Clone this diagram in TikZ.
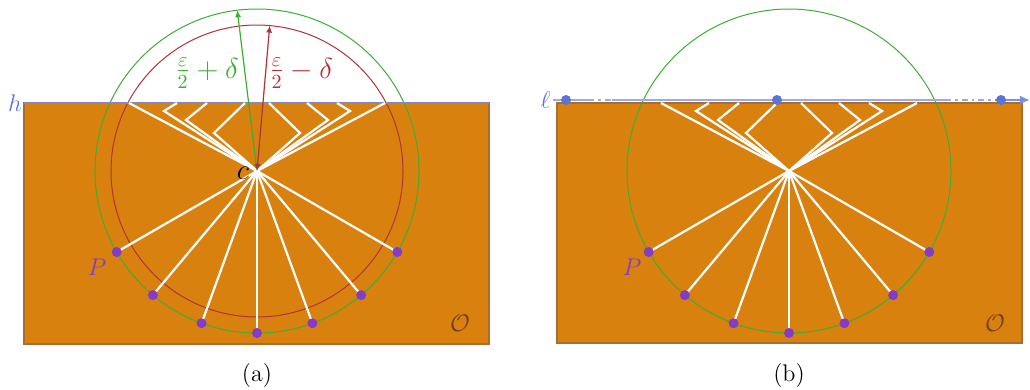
\documentclass[tikz,border=0pt]{standalone}
\usepackage{amsmath}
\usepackage{amssymb}
\usepackage{xcolor}
\usepackage{tikz}
\usetikzlibrary{arrows.meta}
\definecolor{objorange}{RGB}{217,129,15}
\definecolor{objedge}{RGB}{165,110,50}
\definecolor{objlabel}{RGB}{115,65,20}
\definecolor{circgreen}{RGB}{60,175,50}
\definecolor{circred}{RGB}{180,50,55}
\definecolor{ptpurple}{RGB}{130,60,200}
\definecolor{lineblue}{RGB}{90,115,215}
\definecolor{hgray}{RGB}{135,135,185}
\definecolor{elllight}{RGB}{155,170,230}

\begin{document}
\begin{tikzpicture}[x=0.0175cm,y=-0.0175cm,every node/.style={font=\large},
    obj/.style={fill=objorange,draw=objedge,line width=0.8pt},
    ray/.style={white,line width=1.1pt},
    bigcirc/.style={line width=0.5pt},
    radarrow/.style={line width=0.6pt,{Latex[length=3.5pt,width=3pt]}-{Latex[length=3.5pt,width=3pt]}},
    lline/.style={elllight,line width=1.3pt}]
  \useasboundingbox (0,0) rectangle (1030,389);

  % (a)
  \draw[obj] (24,103) rectangle (489,344);
  \coordinate (ca) at (257,171);
  \coordinate (hL) at (24,103);
  \coordinate (hR) at (489,103);
  \draw[bigcirc,circgreen] (ca) circle[radius=162];
  \draw[bigcirc,circred] (ca) circle[radius=146];
  \draw[hgray,line width=0.8pt] (hL) -- (hR);
  \node[text=lineblue,left,inner sep=1pt] (hlab) at (hL) {$h$};
  \foreach \bx/\by/\ex in {-64/-34/-128,-93/-60/-80,-71/-51/-50,-43/-38/-12,
                           43/-38/12,71/-51/50,93/-60/80,64/-34/128}
    \draw[ray] (ca) -- +(\bx,\by) -- +(\ex,-68);
  \foreach \a in {30,50,...,150} {
    \path (ca) ++(\a:162) coordinate (pa\a);
    \draw[ray] (ca) -- (pa\a);
  }
  \foreach \a in {30,50,...,150}
    \fill[ptpurple] (pa\a) circle[radius=5];
  \path (ca) ++(-97:162) coordinate (ga);
  \path (ca) ++(-85:146) coordinate (ra);
  \draw[radarrow,circgreen] (ca) -- (ga);
  \draw[radarrow,circred] (ca) -- (ra);
  \node[text=circgreen,font=\Large] (glab) at (207,73) {$\frac{\varepsilon}{2}+\delta$};
  \node[text=circred,font=\Large] (rlab) at (301,73) {$\frac{\varepsilon}{2}-\delta$};
  \node[font=\Large] (clab) at (243,173) {$c$};
  \node[text=ptpurple] (plaba) at (97,267) {$P$};
  \node[text=objlabel] (olaba) at (460,323) {$\mathcal{O}$};
  \node (capa) at (257,375) {(a)};

  % (b)
  \draw[obj] (557,103) rectangle (1022,343);
  \coordinate (cb) at (789,171);
  \draw[bigcirc,circgreen] (cb) circle[radius=162];
  \foreach \bx/\by/\ex in {-64/-34/-128,-93/-60/-80,-71/-51/-50,-43/-38/-12,
                           43/-38/12,71/-51/50,93/-60/80,64/-34/128}
    \draw[ray] (cb) -- +(\bx,\by) -- +(\ex,-68);
  \foreach \a in {30,50,...,150} {
    \path (cb) ++(\a:162) coordinate (pb\a);
    \draw[ray] (cb) -- (pb\a);
  }
  \foreach \a in {30,50,...,150}
    \fill[ptpurple] (pb\a) circle[radius=5];
  \coordinate (l0) at (553,100);
  \coordinate (l1) at (588,100);
  \coordinate (l2) at (612,100);
  \coordinate (l3) at (945,100);
  \coordinate (l4) at (995,100);
  \coordinate (l5) at (1030,100);
  \draw[lline] (l0) -- (l1);
  \draw[lline,dash dot] (l1) -- (l2);
  \draw[lline] (l2) -- (l3);
  \draw[lline,dash dot] (l3) -- (l4);
  \draw[lline,-{Latex[length=5pt,width=4.5pt]},lineblue!80] (l4) -- (l5);
  \foreach \x [count=\i] in {566,777,1001}
    \fill[lineblue] (\x,100) circle[radius=5] coordinate (q\i);
  \node[text=lineblue,left,inner sep=1pt] (llab) at (l0) {$\ell$};
  \node[text=ptpurple] (plabb) at (632,267) {$P$};
  \node[text=objlabel] (olabb) at (995,323) {$\mathcal{O}$};
  \node (capb) at (789,375) {(b)};
\end{tikzpicture}
\end{document}
